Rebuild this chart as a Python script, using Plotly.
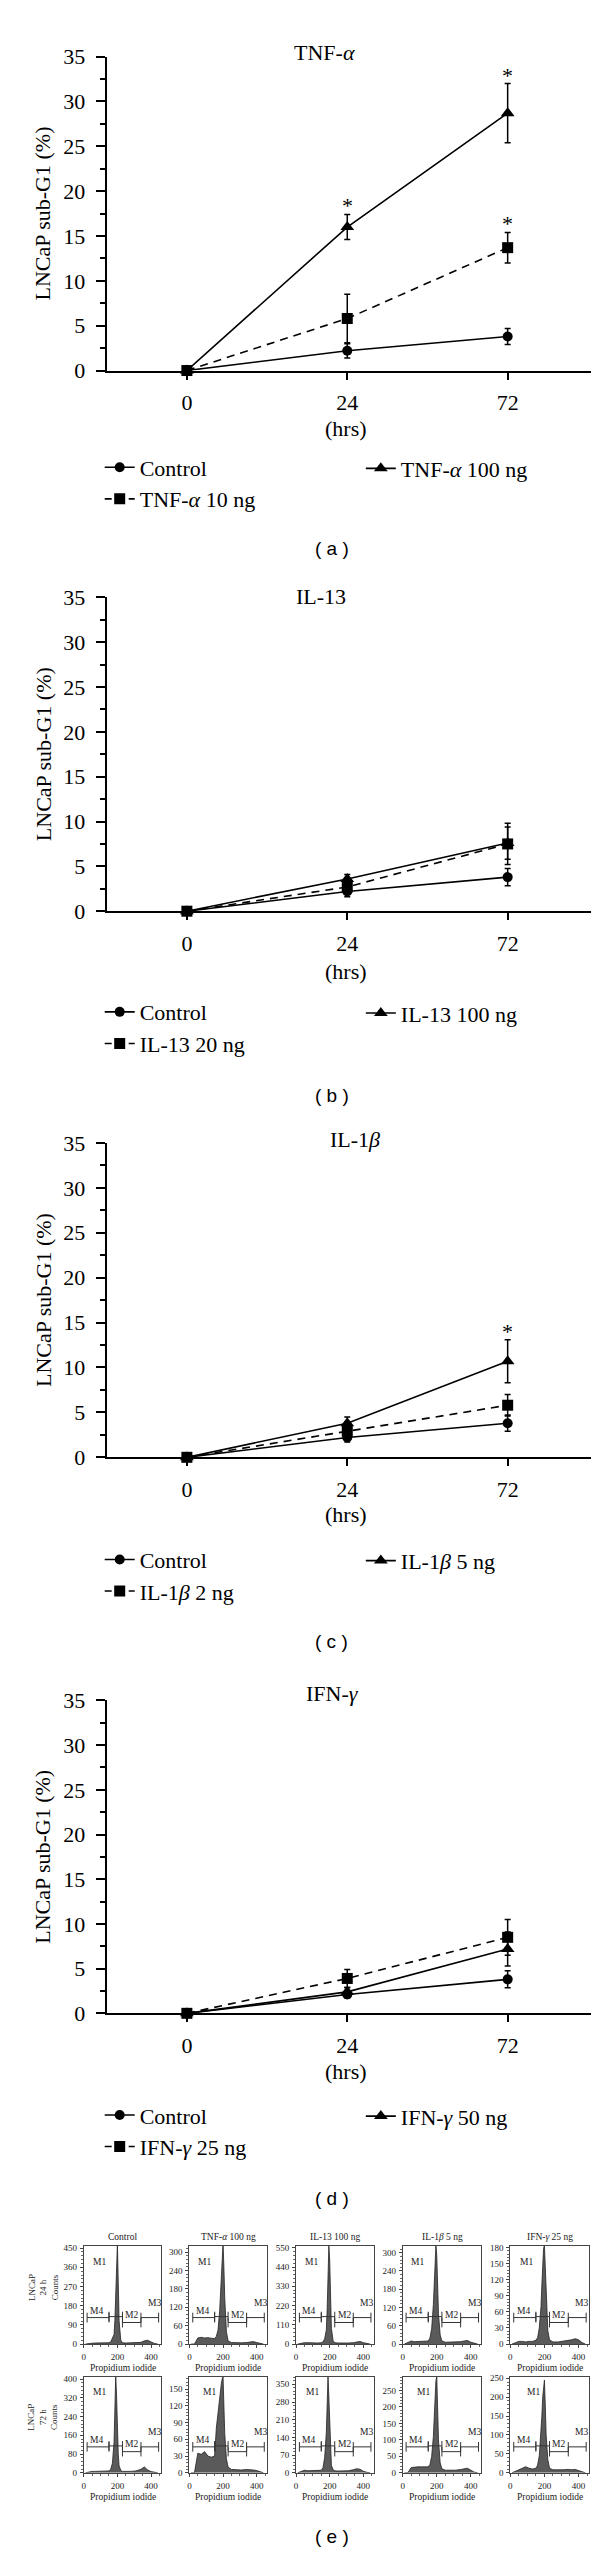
import plotly.graph_objects as go

# ---------------- data: line charts (a)-(d) ----------------
HOURS = ["0", "24", "72"]

TNF_CONTROL = [0, 2.2, 3.8]
TNF_CONTROL_ERR = [0, 0.8, 0.9]
TNF_10 = [0, 5.8, 13.7]
TNF_10_ERR = [0, 2.7, 1.7]
TNF_100 = [0, 16.0, 28.7]
TNF_100_ERR = [0, 1.4, 3.3]

IL13_CONTROL = [0, 2.2, 3.8]
IL13_CONTROL_ERR = [0, 0.6, 0.95]
IL13_20 = [0, 2.7, 7.5]
IL13_20_ERR = [0, 0.5, 2.3]
IL13_100 = [0, 3.6, 7.6]
IL13_100_ERR = [0, 0.5, 1.8]

IL1B_CONTROL = [0, 2.2, 3.8]
IL1B_CONTROL_ERR = [0, 0.5, 0.9]
IL1B_2 = [0, 2.9, 5.8]
IL1B_2_ERR = [0, 0.6, 1.2]
IL1B_5 = [0, 3.8, 10.7]
IL1B_5_ERR = [0, 0.7, 2.4]

IFNG_CONTROL = [0, 2.1, 3.8]
IFNG_CONTROL_ERR = [0, 0.4, 0.95]
IFNG_25 = [0, 3.9, 8.5]
IFNG_25_ERR = [0, 1.0, 2.0]
IFNG_50 = [0, 2.4, 7.2]
IFNG_50_ERR = [0, 0.5, 1.9]

PANEL_TITLES = ["TNF-<i>α</i>", "IL-13", "IL-1<i>β</i>", "IFN-<i>γ</i>"]
LOW_NAMES = ["TNF-<i>α</i> 10 ng", "IL-13 20 ng", "IL-1<i>β</i> 2 ng", "IFN-<i>γ</i> 25 ng"]
HIGH_NAMES = ["TNF-<i>α</i> 100 ng", "IL-13 100 ng", "IL-1<i>β</i> 5 ng", "IFN-<i>γ</i> 50 ng"]
PANEL_LABELS = ["( a )", "( b )", "( c )", "( d )"]
# significance stars: (series, hour index)
STARS = [[("high", 1), ("low", 2), ("high", 2)], [], [("high", 2)], []]

# ---------------- data: histograms (e) ----------------
PI_GRID = [10, 30, 50, 70, 90, 110, 130, 150, 160, 170, 180, 185, 190, 195,
           200, 205, 210, 220, 230, 250, 280, 310, 340, 360, 380, 400, 420, 440]

H24_CONTROL = [0, 3, 4, 5, 5, 4, 5, 6, 10, 25, 45, 110, 240, 400, 470, 290, 110, 18, 6, 5, 5, 6, 8, 15, 18, 10, 3, 0]
H24_TNF = [0, 0, 20, 22, 20, 21, 19, 18, 25, 45, 110, 170, 240, 300, 330, 250, 150, 40, 10, 5, 4, 4, 5, 6, 8, 5, 2, 0]
H24_IL13 = [0, 5, 8, 8, 6, 6, 6, 8, 12, 30, 80, 200, 400, 560, 480, 250, 90, 20, 8, 6, 5, 6, 8, 12, 15, 8, 3, 0]
H24_IL1B = [0, 5, 10, 8, 8, 8, 8, 10, 20, 50, 130, 200, 280, 325, 290, 200, 100, 30, 10, 6, 6, 6, 8, 10, 12, 6, 3, 0]
H24_IFNG = [0, 3, 5, 5, 4, 5, 5, 7, 12, 30, 70, 110, 150, 178, 185, 140, 80, 25, 8, 4, 4, 5, 6, 8, 10, 8, 3, 0]

H72_CONTROL = [0, 4, 6, 6, 6, 6, 6, 8, 15, 40, 130, 280, 415, 330, 180, 80, 30, 10, 6, 5, 6, 8, 15, 25, 12, 5, 2, 0]
H72_TNF = [0, 0, 35, 33, 38, 30, 28, 30, 80, 110, 140, 150, 160, 168, 172, 120, 70, 25, 10, 6, 5, 5, 6, 6, 5, 4, 2, 0]
H72_IL13 = [0, 6, 10, 8, 8, 8, 8, 10, 20, 60, 160, 270, 380, 300, 180, 80, 30, 12, 8, 7, 7, 8, 12, 16, 14, 6, 2, 0]
H72_IL1B = [0, 0, 16, 18, 18, 18, 18, 18, 25, 50, 110, 170, 240, 280, 292, 200, 100, 30, 12, 8, 7, 8, 10, 12, 14, 8, 2, 0]
H72_IFNG = [0, 5, 8, 12, 16, 12, 10, 12, 20, 45, 100, 150, 200, 235, 245, 180, 100, 35, 12, 8, 7, 8, 9, 8, 9, 6, 2, 0]

HIST_TITLES = ["Control", "TNF-<i>α</i> 100 ng", "IL-13 100 ng", "IL-1<i>β</i> 5 ng", "IFN-<i>γ</i> 25 ng"]
H24_YMAX = [460, 320, 560, 322, 183]
H72_YMAX = [410, 172, 380, 292, 254]
H24_YSTEP = [90, 60, 110, 60, 30]
H72_YSTEP = [80, 30, 70, 50, 50]
GATES = {"M4": (20, 150), "M1": (150, 230), "M2": (230, 340), "M3": (340, 445)}
ROW_TITLES = ["LNCaP<br>24 h<br>Counts", "LNCaP<br>72 h<br>Counts"]

# ---------------- geometry / style ----------------
W, H = 600, 2558
SERIF = "Liberation Serif"
SANS = "Liberation Sans"


def px(x):
    return x / W


def py(y):
    return 1 - y / H


def paper_text(x, y, text, size, family=SERIF, color="black", angle=0):
    return dict(x=px(x), y=py(y), xref="paper", yref="paper", text=text,
                showarrow=False, xanchor="center", yanchor="middle", textangle=angle,
                font=dict(family=family, size=size, color=color))


GEOM = [
    dict(top=37, zero=354, title_x=316, title_y=33, hrs_y=413, leg_y=453, label_y=534),
    dict(top=583, zero=900, title_x=312, title_y=582, hrs_y=961, leg_y=1003, label_y=1086),
    dict(top=1134, zero=1451.5, title_x=346, title_y=1131, hrs_y=1509, leg_y=1556, label_y=1638),
    dict(top=1697, zero=2013, title_x=324, title_y=1690, hrs_y=2072, leg_y=2117, label_y=2200),
]
AX_LEFT, AX_RIGHT = 97, 583

fig = go.Figure()
layout = dict(width=W, height=H, margin=dict(l=0, r=0, t=0, b=0),
              paper_bgcolor="white", plot_bgcolor="white", showlegend=True,
              annotations=[], shapes=[])
ann = layout["annotations"]
shapes = layout["shapes"]

line_series = [
    (TNF_CONTROL, TNF_CONTROL_ERR, TNF_10, TNF_10_ERR, TNF_100, TNF_100_ERR),
    (IL13_CONTROL, IL13_CONTROL_ERR, IL13_20, IL13_20_ERR, IL13_100, IL13_100_ERR),
    (IL1B_CONTROL, IL1B_CONTROL_ERR, IL1B_2, IL1B_2_ERR, IL1B_5, IL1B_5_ERR),
    (IFNG_CONTROL, IFNG_CONTROL_ERR, IFNG_25, IFNG_25_ERR, IFNG_50, IFNG_50_ERR),
]

STYLE = {
    "control": dict(symbol="circle", size=10, dash="solid", legdash="solid"),
    "low": dict(symbol="square", size=11, dash="8px,6px", legdash="7px,17px"),
    "high": dict(symbol="triangle-up", size=12, dash="solid", legdash="solid"),
}

for i, (ctrl, ctrl_e, low, low_e, high, high_e) in enumerate(line_series):
    g = GEOM[i]
    n = i + 1
    xa = "x" if n == 1 else f"x{n}"
    ya = "y" if n == 1 else f"y{n}"
    leg_a = "legend" if n == 1 else f"legend{2 * n - 1}"
    leg_b = f"legend{2 * n}"
    series = {"control": (ctrl, ctrl_e, "Control", leg_a),
              "low": (low, low_e, LOW_NAMES[i], leg_a),
              "high": (high, high_e, HIGH_NAMES[i], leg_b)}
    for key in ["control", "high", "low"]:
        vals, errs, name, _ = series[key]
        st = STYLE[key]
        fig.add_trace(go.Scatter(
            x=HOURS, y=vals, mode="lines+markers", name=name, showlegend=False,
            xaxis=xa, yaxis=ya, cliponaxis=False,
            line=dict(color="black", width=1.6, dash=st["dash"]),
            marker=dict(symbol=st["symbol"], size=st["size"], color="black"),
            error_y=dict(type="data", array=errs, visible=True, color="black",
                         thickness=1.5, width=3)))
    for key in ["control", "low", "high"]:
        vals, errs, name, leg = series[key]
        st = STYLE[key]
        fig.add_trace(go.Scatter(
            x=[None], y=[None], mode="lines+markers", name=name, legend=leg,
            xaxis=xa, yaxis=ya,
            line=dict(color="black", width=1.6, dash=st["legdash"]),
            marker=dict(symbol=st["symbol"], size=st["size"], color="black")))
    for key, idx in STARS[i]:
        vals, errs, _, _ = series[key]
        ann.append(dict(x=idx, y=vals[idx] + errs[idx], xref=xa, yref=ya,
                        text="*", showarrow=False, xanchor="center", yanchor="bottom",
                        yshift=-6, font=dict(family=SERIF, size=22, color="black")))

    layout[f"xaxis{'' if n == 1 else n}"] = dict(
        domain=[px(AX_LEFT), px(AX_RIGHT)], anchor=ya, type="category",
        categoryorder="array", categoryarray=HOURS, range=[-0.5, 2.52],
        showline=True, linecolor="black", linewidth=2, ticks="outside",
        ticklen=7, tickwidth=1.5, tickcolor="black", showgrid=False, zeroline=False,
        tickfont=dict(family=SERIF, size=22, color="black"), ticklabelstandoff=4)
    layout[f"yaxis{'' if n == 1 else n}"] = dict(
        domain=[py(g["zero"]), py(g["top"])], anchor=xa, range=[0, 35],
        tickmode="linear", tick0=0, dtick=5, showline=True, linecolor="black",
        linewidth=2, ticks="outside", ticklen=9, tickwidth=1.5, tickcolor="black",
        minor=dict(dtick=2.5, ticks="outside", ticklen=5, tickwidth=1.5, tickcolor="black"),
        showgrid=False, zeroline=False, ticklabelstandoff=6,
        tickfont=dict(family=SERIF, size=22, color="black"))

    ann.append(paper_text(g["title_x"], g["title_y"], PANEL_TITLES[i], 22))
    ann.append(paper_text(33, (g["top"] + g["zero"]) / 2, "LNCaP sub-G1 (%)", 22, angle=-90))
    ann.append(paper_text(337, g["hrs_y"], "(hrs)", 22))
    ann.append(paper_text(323, g["label_y"], PANEL_LABELS[i], 19, family=SANS))
    legend_common = dict(yanchor="middle", xanchor="left", bgcolor="rgba(0,0,0,0)",
                         font=dict(family=SERIF, size=22, color="black"),
                         itemwidth=30, tracegroupgap=0, borderwidth=0)
    layout[leg_a] = dict(legend_common, x=px(90), y=py(g["leg_y"] + 15))
    layout[leg_b] = dict(legend_common, x=px(352), y=py(g["leg_y"]))

# ---------------- histograms ----------------
COLS = [(74, 152), (180, 258), (287, 365), (394, 473), (502, 581)]
ROWS = [(2248, 2347), (2380, 2477)]
ROW_DATA = [
    ([H24_CONTROL, H24_TNF, H24_IL13, H24_IL1B, H24_IFNG], H24_YMAX, H24_YSTEP),
    ([H72_CONTROL, H72_TNF, H72_IL13, H72_IL1B, H72_IFNG], H72_YMAX, H72_YSTEP),
]
M1_LABEL_X = [[92, 92, 92, 85, 92], [95, 120, 95, 125, 135]]
GATE_FRAC = {"M4": 0.27, "M1": 0.28, "M2": 0.22, "M3": 0.27}
GATE_LABEL = {"M4": (75, 0.34), "M2": (285, 0.30), "M3": (420, 0.42)}
TICKFONT = dict(family=SERIF, size=9, color="#222")

k = 5
for r, (counts_list, ymaxs, ysteps) in enumerate(ROW_DATA):
    top, bot = ROWS[r]
    for c in range(5):
        xa, ya = f"x{k}", f"y{k}"
        counts, ymax, step = counts_list[c], ymaxs[c], ysteps[c]
        fig.add_trace(go.Scatter(
            x=PI_GRID, y=counts, mode="lines", fill="tozeroy", showlegend=False,
            xaxis=xa, yaxis=ya, fillcolor="#5a5a5a",
            line=dict(color="#222", width=0.8)))
        layout[f"xaxis{k}"] = dict(
            domain=[px(COLS[c][0]), px(COLS[c][1])], anchor=ya, range=[0, 462],
            tickmode="linear", tick0=0, dtick=200, showline=True, mirror=True,
            linecolor="#444", linewidth=1, ticks="outside", ticklen=3,
            tickcolor="#444", minor=dict(dtick=50, ticks="outside", ticklen=2, tickcolor="#666"),
            showgrid=False, zeroline=False, tickfont=TICKFONT, ticklabelstandoff=1)
        layout[f"yaxis{k}"] = dict(
            domain=[py(bot), py(top)], anchor=xa, range=[0, ymax],
            tickmode="linear", tick0=0, dtick=step, showline=True, mirror=True,
            linecolor="#444", linewidth=1, ticks="outside", ticklen=3,
            tickcolor="#444", minor=dict(dtick=step / 5, ticks="outside", ticklen=2, tickcolor="#666"),
            showgrid=False, zeroline=False, tickfont=TICKFONT, ticklabelstandoff=1)
        # gates
        for gname, (g0, g1) in GATES.items():
            yv = GATE_FRAC[gname] * ymax
            cap = 0.05 * ymax
            shapes.append(dict(type="line", xref=xa, yref=ya, x0=g0, x1=g1, y0=yv, y1=yv,
                               line=dict(color="#333", width=1)))
            for xe in (g0, g1):
                shapes.append(dict(type="line", xref=xa, yref=ya, x0=xe, x1=xe,
                                   y0=yv - cap, y1=yv + cap, line=dict(color="#333", width=1)))
        for gname, (lx, lf) in GATE_LABEL.items():
            ann.append(dict(x=lx, y=lf * ymax, xref=xa, yref=ya, text=gname, showarrow=False,
                            xanchor="center", yanchor="middle",
                            font=dict(family=SERIF, size=9.5, color="#222")))
        ann.append(dict(x=M1_LABEL_X[r][c], y=0.84 * ymax, xref=xa, yref=ya, text="M1",
                        showarrow=False, xanchor="center", yanchor="middle",
                        font=dict(family=SERIF, size=9.5, color="#222")))
        cx = (COLS[c][0] + COLS[c][1]) / 2
        ann.append(paper_text(cx, bot + 24, "Propidium iodide", 9.5, color="#222"))
        if r == 0:
            ann.append(paper_text(cx, top - 9, HIST_TITLES[c], 9.5, color="#222"))
        k += 1
    ann.append(paper_text(33, (top + bot) / 2 - 8, ROW_TITLES[r], 9, color="#222", angle=-90))

ann.append(paper_text(323, 2541, "( e )", 19, family=SANS))

fig.update_layout(**layout)
fig.write_html("out.html")
